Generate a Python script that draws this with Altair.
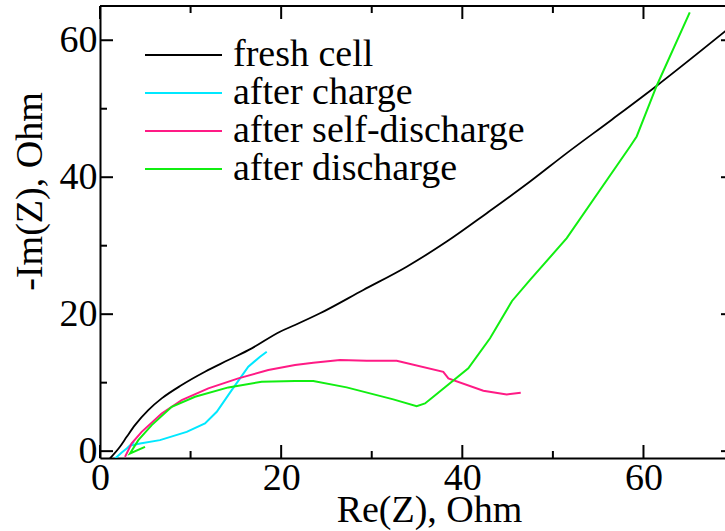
import altair as alt
import pandas as pd

# ---------------- data ----------------
series_names = ["fresh cell", "after charge", "after self-discharge", "after discharge"]
series_colors = ["#000000", "#00E8FF", "#FF1A85", "#11EE11"]

fresh_re = [1.1, 2.2, 2.95, 3.86, 5.33, 6.81, 9.02, 11.59, 14.17, 16.75, 19.87, 21.53,
            24.29, 29.07, 33.86, 38.28, 42.70, 47.48, 51.53, 56.5, 61.47, 69.2]
fresh_im = [-1.07, 0.63, 2.09, 3.80, 5.99, 7.70, 9.65, 11.59, 13.30, 15.01, 17.44, 18.42,
            20.13, 23.54, 26.94, 30.60, 34.75, 39.37, 43.52, 48.4, 53.36, 61.5]

charge_re = [1.66, 2.4, 2.95, 3.75, 3.3, 4.42, 6.62, 9.57, 11.59, 12.89, 14.54, 15.46, 16.37, 17.67, 18.41]
charge_im = [-1.07, -0.2, 0.39, 1.36, 0.8, 1.13, 1.61, 2.82, 4.05, 5.75, 8.92, 10.63, 12.32, 13.79, 14.52]

selfdis_re = [2.76, 3.50, 4.60, 6.81, 9.02, 11.96, 15.27, 18.58, 21.53, 23.55, 26.50, 29.45,
              32.76, 37.90, 38.46, 42.32, 44.90, 46.45]
selfdis_im = [-0.83, 1.13, 2.82, 5.51, 7.46, 9.17, 10.63, 11.84, 12.57, 12.91, 13.30, 13.20,
              13.20, 11.59, 10.63, 8.82, 8.29, 8.52]

dis_re = [4.97, 3.31, 4.23, 5.71, 7.92, 10.49, 14.17, 17.85, 21.53, 23.55, 27.23, 32.38,
          34.96, 35.88, 36.80, 40.66, 43.06, 45.49, 47.48, 51.53, 58.52, 59.25, 61.46, 65.11]
dis_im = [0.63, -0.34, 1.61, 3.80, 6.48, 7.94, 9.31, 10.13, 10.23, 10.23, 9.31, 7.56,
          6.58, 6.97, 7.94, 12.09, 16.48, 21.93, 25.00, 31.10, 44.49, 45.95, 53.36, 64.08]

x_major_ticks = [0, 20, 40, 60]
x_minor_ticks = [10, 30, 50]
y_major_ticks = [0, 20, 40, 60]
y_minor_ticks = [10, 30, 50]

x_title = "Re(Z), Ohm"
y_title = "-Im(Z), Ohm"

# ---------------- layout constants ----------------
W, H = 625, 452
X_DOMAIN = [0, 69.0]
Y_DOMAIN = [-1, 65]
FONT = "Liberation Serif"
FS = 38
MAJOR, MINOR = 13, 7

rows = []
for name, xs, ys in zip(series_names,
                        [fresh_re, charge_re, selfdis_re, dis_re],
                        [fresh_im, charge_im, selfdis_im, dis_im]):
    for i, (a, b) in enumerate(zip(xs, ys)):
        rows.append({"series": name, "re": a, "im": b, "idx": i})
df = pd.DataFrame(rows)

xscale = alt.Scale(domain=X_DOMAIN, nice=False, zero=False)
yscale = alt.Scale(domain=Y_DOMAIN, nice=False, zero=False)

xaxis = alt.Axis(values=x_major_ticks, ticks=False, grid=False, title=x_title,
                 labelFont=FONT, labelFontSize=FS, labelColor="black",
                 labelFlush=False, labelOverlap=False, labelPadding=1,
                 domainColor="black", domainWidth=2,
                 titleFont=FONT, titleFontSize=FS, titleFontWeight="normal",
                 titleColor="black", titleX=329, titleY=63,
                 titleAlign="center", titleBaseline="alphabetic")
yaxis = alt.Axis(values=y_major_ticks, ticks=False, grid=False, title=y_title,
                 labelFont=FONT, labelFontSize=FS, labelColor="black",
                 labelFlush=False, labelOverlap=False, labelPadding=3,
                 domainColor="black", domainWidth=2,
                 titleFont=FONT, titleFontSize=FS, titleFontWeight="normal",
                 titleColor="black", titleX=-70, titleY=185, titleAngle=270,
                 titleAlign="center", titleBaseline="middle")

color = alt.Color("series:N",
                  scale=alt.Scale(domain=series_names, range=series_colors),
                  legend=alt.Legend(orient="none", legendX=44, legendY=30, title=None,
                                    symbolType="stroke", symbolSize=5929,
                                    symbolStrokeWidth=2, clipHeight=38, rowPadding=0,
                                    labelFont=FONT, labelFontSize=FS, labelColor="black",
                                    labelOffset=10, padding=0, labelLimit=0))

base = alt.Chart(df)
fresh_line = base.transform_filter(alt.datum.series == series_names[0]).mark_line(
    clip=True, strokeWidth=1.8, interpolate="monotone").encode(
    x=alt.X("re:Q", scale=xscale, axis=xaxis),
    y=alt.Y("im:Q", scale=yscale, axis=yaxis),
    color=color, order=alt.Order("idx:Q"))
other_lines = base.transform_filter(alt.datum.series != series_names[0]).mark_line(
    clip=True, strokeWidth=2).encode(
    x=alt.X("re:Q", scale=xscale, axis=xaxis),
    y=alt.Y("im:Q", scale=yscale, axis=yaxis),
    color=color, order=alt.Order("idx:Q"))

# inward tick marks
def xticks(vals, length, top):
    d = pd.DataFrame({"re": vals})
    y0 = 0 if top else H
    y1 = length if top else H - length
    return alt.Chart(d).mark_rule(color="black", strokeWidth=2).encode(
        x=alt.X("re:Q", scale=xscale, axis=xaxis),
        y=alt.value(y0), y2=alt.value(y1))

def yticks(vals, length, right):
    d = pd.DataFrame({"im": vals})
    xr = 634
    x0 = xr if right else 0
    x1 = xr - length if right else length
    return alt.Chart(d).mark_rule(color="black", strokeWidth=2).encode(
        y=alt.Y("im:Q", scale=yscale, axis=yaxis),
        x=alt.value(x0), x2=alt.value(x1))

top_border = alt.Chart(pd.DataFrame({"v": [0]})).mark_rule(color="black", strokeWidth=2).encode(
    x=alt.value(0), x2=alt.value(W), y=alt.value(0))

chart = alt.layer(
    fresh_line, other_lines,
    xticks(x_major_ticks, MAJOR, False), xticks(x_minor_ticks, MINOR, False),
    xticks(x_major_ticks, MAJOR, True), xticks(x_minor_ticks, MINOR, True),
    yticks(y_major_ticks, MAJOR, False), yticks(y_minor_ticks, MINOR, False),
    yticks(y_major_ticks, MAJOR, True), yticks(y_minor_ticks, MINOR, True),
    top_border,
).properties(
    width=W, height=H,
    autosize=alt.AutoSizeParams(type="none"),
    padding={"left": 100, "top": 6, "right": 0, "bottom": 73},
    background="white",
).configure_view(stroke=None)

chart.save("out.html", embed_options={"renderer": "svg", "actions": False})
